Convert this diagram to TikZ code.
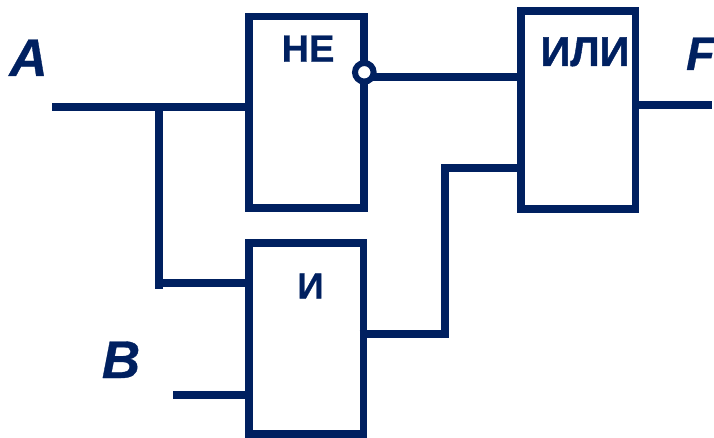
\documentclass[tikz,border=0pt]{standalone}
\usepackage{fontspec}
\setmainfont{Liberation Sans}
\newfontfamily\gatefont[FakeBold=0.6]{Liberation Sans Bold}
\newfontfamily\orfont[FakeBold=1]{Liberation Sans Bold}
\newfontfamily\sigfont[FakeBold=0.6]{Liberation Sans Bold Italic}
\definecolor{navy}{HTML}{002060}
\tikzset{
  gatebox/.style={draw=navy,line width=7.8pt,rectangle,inner sep=0pt,outer sep=0pt,anchor=north west},
  wire/.style={draw=navy,line width=8pt,line cap=butt},
  gatetext/.style={text=navy,font=\gatefont\fontsize{38}{38}\selectfont,inner sep=0pt,anchor=base},
  andtext/.style={text=navy,font=\gatefont\fontsize{36.5}{36.5}\selectfont,inner sep=0pt,anchor=base},
  ortext/.style={text=navy,font=\orfont\fontsize{41.5}{41.5}\selectfont,inner sep=0pt,anchor=base},
  sigtext/.style={text=navy,font=\sigfont\fontsize{53}{53}\selectfont,inner sep=0pt,anchor=base},
  ftext/.style={text=navy,font=\sigfont\fontsize{47}{47}\selectfont,inner sep=0pt,anchor=base east},
  bubble/.style={circle,draw=navy,fill=white,line width=6pt,minimum size=18.6pt,inner sep=0pt,outer sep=0pt}
}
\begin{document}
\begin{tikzpicture}[x=1pt,y=-1pt]
\useasboundingbox (0,0) rectangle (714,438);
\clip (0,0) rectangle (714,438);
\node[gatebox,minimum width=115pt,minimum height=191.5pt] (ne) at (249,16.5) {};
\node[gatebox,minimum width=114.5pt,minimum height=191pt] (and) at (249,243) {};
\node[gatebox,minimum width=114.5pt,minimum height=198pt] (or) at (521,11) {};
\coordinate (ain) at (52,107);
\coordinate (tap) at (158.5,107);
\coordinate (tapend) at (158.5,289);
\coordinate (tapmid) at (158.5,283);
\coordinate (bin) at (173,395);
\coordinate (andout) at (359.5,334);
\coordinate (up1) at (445,334);
\coordinate (up2) at (445,168);
\coordinate (notout) at (364,77);
\coordinate (fout) at (712,105);
\draw[wire] (ain) -- (ain -| ne.west);
\draw[wire] (tap) -- (tapend);
\draw[wire] (tapmid) -- (tapmid -| and.west);
\draw[wire] (bin) -- (bin -| and.west);
\draw[wire] (notout) -- (notout -| or.west);
\draw[wire] (andout) -- ([xshift=4pt]up1);
\draw[wire] ([yshift=-4pt]up1) -- ([yshift=4pt]up2);
\draw[wire] ([xshift=-4pt]up2) -- (up2 -| or.west);
\draw[wire] (fout -| or.east) -- (fout);
\node[bubble] (inv) at (364.3,72.3) {};
\node[gatetext] (lne) at (308,61.7) {НЕ};
\node[andtext] (land) at (310.5,298.5) {И};
\node[ortext] (lor) at (585,66) {ИЛИ};
\node[sigtext] (la) at (28.5,76) {A};
\node[sigtext] (lb) at (121,378) {B};
\node[ftext] (lf) at (715,70) {F};
\end{tikzpicture}
\end{document}
